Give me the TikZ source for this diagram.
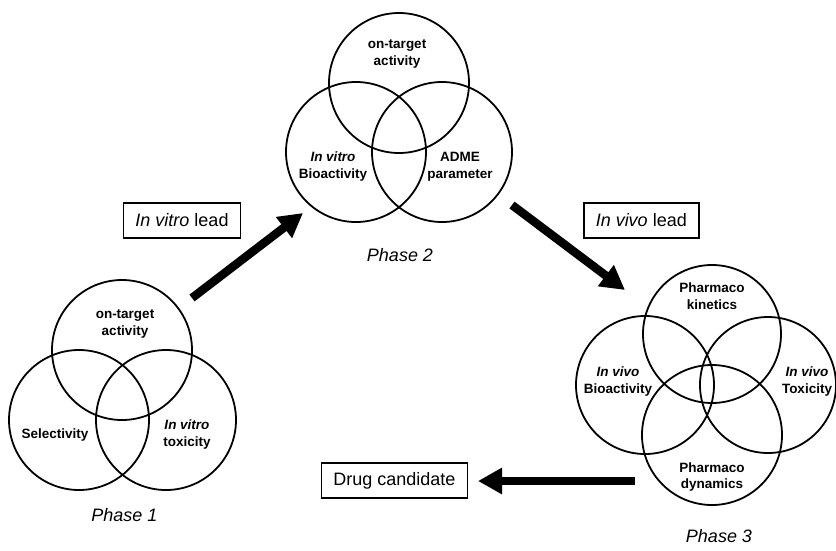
\documentclass[tikz,border=0pt]{standalone}
\usepackage{fontspec}
\setmainfont{Liberation Sans}
\usetikzlibrary{arrows.meta}
\begin{document}
\begin{tikzpicture}[x=1pt,y=-1pt,
  venn/.style={circle, draw, line width=1.8pt, minimum size=140pt, inner sep=0pt},
  clabel/.style={font=\fontsize{13.5}{17}\selectfont\bfseries, align=center, inner sep=0pt},
  plabel/.style={font=\fontsize{18}{22}\selectfont\itshape, inner sep=0pt},
  leadbox/.style={draw, line width=1.5pt, font=\fontsize{18}{22}\selectfont, minimum height=35pt, inner xsep=12pt, inner ysep=0pt},
  bigarrow/.style={line width=8.5pt, -{Triangle[length=24pt,width=25pt]}}
]
\useasboundingbox (0,0) rectangle (836,550);
% Phase 1
\node[venn] (p1top) at (122,350) {};
\node[venn] (p1left) at (79,420) {};
\node[venn] (p1right) at (166,420) {};
\node[clabel] (p1t) at (125,323.5) {on-target\\activity};
\node[clabel] (p1l) at (55,435) {Selectivity};
\node[clabel] (p1r) at (187,434.5) {\textit{In vitro}\\toxicity};
\node[plabel] (ph1) at (124.5,515) {Phase 1};
% Phase 2
\node[venn] (p2top) at (399,83) {};
\node[venn] (p2left) at (356,152) {};
\node[venn] (p2right) at (442,152) {};
\node[clabel] (p2t) at (397,54) {on-target\\activity};
\node[clabel] (p2l) at (333,166.5) {\textit{In vitro}\\Bioactivity};
\node[clabel] (p2r) at (460,166.5) {ADME\\parameter};
\node[plabel] (ph2) at (400,255) {Phase 2};
% Phase 3
\node[venn, minimum size=138pt] (p3top) at (712,334) {};
\node[venn, minimum size=138pt] (p3left) at (645,385) {};
\node[venn, minimum size=136pt] (p3right) at (768,385) {};
\node[venn] (p3bot) at (712,435) {};
\node[clabel] (p3t) at (712,296) {Pharmaco\\kinetics};
\node[clabel] (p3l) at (618,381.5) {\textit{In vivo}\\Bioactivity};
\node[clabel] (p3r) at (807,381.5) {\textit{In vivo}\\Toxicity};
\node[clabel] (p3b) at (712,477) {Pharmaco\\dynamics};
\node[plabel] (ph3) at (719,536) {Phase 3};
% boxes
\node[leadbox] (vitro) at (182,220.5) {\textit{In vitro} lead};
\node[leadbox, anchor=west] (vivo) at (583,220.5) {\textit{In vivo} lead};
\node[leadbox] (drug) at (394.5,480.5) {Drug candidate};
% arrows
\coordinate (a1s) at (192,298);
\coordinate (a1e) at (303,213);
\coordinate (a2s) at (512,205);
\coordinate (a2e) at (625,290);
\coordinate (a3s) at (635,481);
\coordinate (a3e) at (478,481);
\draw[bigarrow] (a1s) -- (a1e);
\draw[bigarrow] (a2s) -- (a2e);
\draw[bigarrow] (a3s) -- (a3e);
\end{tikzpicture}
\end{document}
